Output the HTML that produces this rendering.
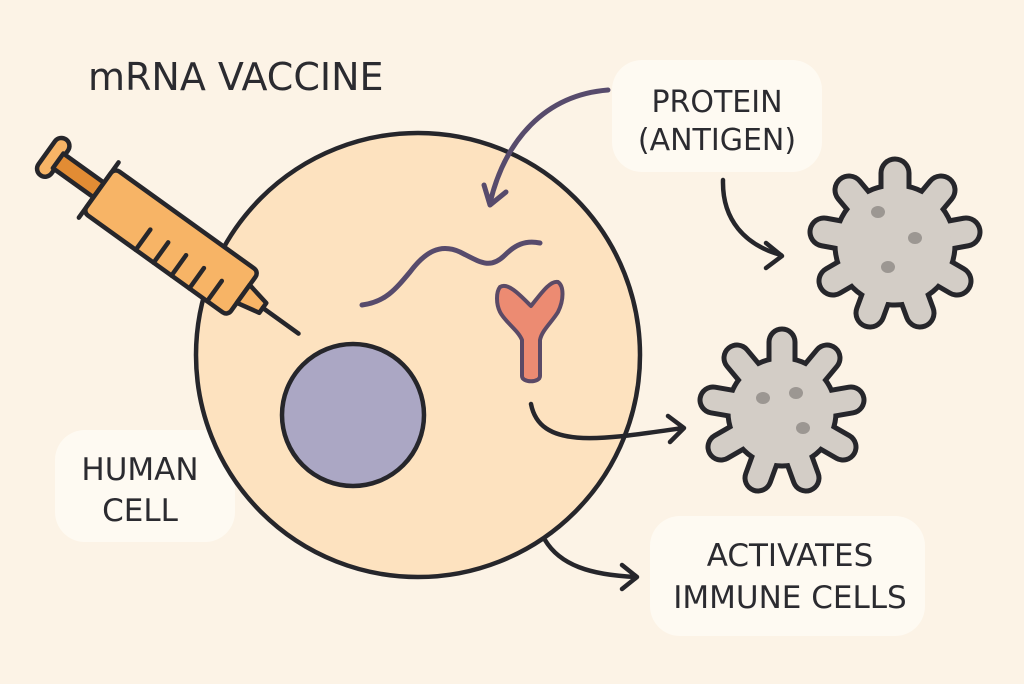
<!DOCTYPE html>
<html><head><meta charset="utf-8"><style>
html,body{margin:0;padding:0;background:#fcf3e6;}
svg{display:block;}
text{font-family:"DejaVu Sans","Liberation Sans",sans-serif;fill:#2b2b30;}
</style></head><body>
<svg width="1024" height="684" viewBox="0 0 1024 684" xmlns="http://www.w3.org/2000/svg">
<rect width="1024" height="684" fill="#fcf3e6"/>
<rect x="612" y="60" width="210" height="112" rx="30" fill="#fefaf2"/>
<rect x="55" y="430" width="180" height="112" rx="30" fill="#fefaf2"/>
<rect x="650" y="516" width="275" height="120" rx="30" fill="#fefaf2"/>
<text x="88" y="90" font-size="38">mRNA VACCINE</text>
<text x="717" y="112" font-size="30" text-anchor="middle">PROTEIN</text>
<text x="717" y="150" font-size="30" text-anchor="middle">(ANTIGEN)</text>
<text x="140" y="480" font-size="31" text-anchor="middle">HUMAN</text>
<text x="140" y="521" font-size="31" text-anchor="middle">CELL</text>
<text x="790" y="566" font-size="31" text-anchor="middle">ACTIVATES</text>
<text x="790" y="608" font-size="31" text-anchor="middle">IMMUNE CELLS</text>
<circle cx="418" cy="355" r="222" fill="#fde2bf" stroke="#26262b" stroke-width="4.5"/>
<circle cx="353" cy="415" r="71" fill="#aba7c4" stroke="#26262b" stroke-width="4.5"/>
<g transform="translate(50,155) rotate(35.7)" stroke="#26262b" stroke-width="4.5" stroke-linejoin="round" stroke-linecap="round">
  <rect x="-4" y="-22" width="16" height="44" rx="8" fill="#f7b466"/>
  <rect x="10" y="-9" width="50" height="18" fill="#e28c34"/>
  <line x1="60" y1="-34" x2="60" y2="34"/>
  <rect x="60" y="-27" width="178" height="54" rx="6" fill="#f7b466"/>
  <line x1="125" y1="27" x2="125" y2="2"/>
  <line x1="147" y1="27" x2="147" y2="2"/>
  <line x1="169" y1="27" x2="169" y2="2"/>
  <line x1="191" y1="27" x2="191" y2="2"/>
  <line x1="213" y1="27" x2="213" y2="2"/>
  <path d="M238 -11 L262 -6 L262 6 L238 11 Z" fill="#f7b466"/>
  <line x1="262" y1="0" x2="306" y2="0"/>
</g>
<g fill="none" stroke="#574b6c" stroke-width="5" stroke-linecap="round" stroke-linejoin="round">
  <path d="M608 90 C545 95 505 140 490 203"/>
  <path d="M484 185 L490 205 L506 192"/>
  <path d="M362 305 C385 302 395 290 410 272 C425 252 440 243 460 252 C480 262 490 270 505 255 C515 245 525 240 540 243"/>
</g>
<path d="M500 287 C508 282 520 295 531 306 C540 295 550 280 558 282 C564 286 564 300 558 312 C552 322 542 330 540 340 L540 376 C540 383 522 383 522 376 L522 340 C518 330 505 322 500 312 C496 304 496 292 500 287 Z" fill="#ec8b72" stroke="#5b4a66" stroke-width="4" stroke-linejoin="round"/>
<g fill="none" stroke="#26262b" stroke-width="4.5" stroke-linecap="round" stroke-linejoin="round">
  <path d="M531 404 C540 450 600 440 683 428"/>
  <path d="M668 416 L684 428 L670 442"/>
  <path d="M723 180 C722 220 745 245 781 255"/>
  <path d="M766 243 L782 256 L766 268"/>
  <path d="M545 540 C560 565 590 575 636 577"/>
  <path d="M622 565 L637 577 L622 589"/>
</g>
<g stroke-linecap="round">
  <path d="M895 245 L895 173 M895 245 L941 190 M895 245 L966 232 M895 245 L957 281 M895 245 L920 313 M895 245 L870 313 M895 245 L833 281 M895 245 L824 232 M895 245 L849 190" stroke="#26262b" stroke-width="33" fill="none"/>
  <circle cx="895" cy="245" r="60" fill="#d3cdc6" stroke="#26262b" stroke-width="5"/>
  <path d="M895 245 L895 173 M895 245 L941 190 M895 245 L966 232 M895 245 L957 281 M895 245 L920 313 M895 245 L870 313 M895 245 L833 281 M895 245 L824 232 M895 245 L849 190" stroke="#d3cdc6" stroke-width="23" fill="none"/>
  <circle cx="895" cy="245" r="56" fill="#d3cdc6"/>
</g>
<g stroke-linecap="round">
  <path d="M782 412 L782 342 M782 412 L827 358 M782 412 L851 400 M782 412 L843 447 M782 412 L806 478 M782 412 L758 478 M782 412 L721 447 M782 412 L713 400 M782 412 L737 358" stroke="#26262b" stroke-width="31" fill="none"/>
  <circle cx="782" cy="412" r="54" fill="#d3cdc6" stroke="#26262b" stroke-width="5"/>
  <path d="M782 412 L782 342 M782 412 L827 358 M782 412 L851 400 M782 412 L843 447 M782 412 L806 478 M782 412 L758 478 M782 412 L721 447 M782 412 L713 400 M782 412 L737 358" stroke="#d3cdc6" stroke-width="21" fill="none"/>
  <circle cx="782" cy="412" r="50" fill="#d3cdc6"/>
</g>
<g fill="#9c9792">
  <ellipse cx="878" cy="212" rx="7" ry="6"/>
  <ellipse cx="915" cy="238" rx="7" ry="6"/>
  <ellipse cx="888" cy="267" rx="7" ry="6"/>
  <ellipse cx="763" cy="398" rx="7" ry="6"/>
  <ellipse cx="796" cy="393" rx="7" ry="6"/>
  <ellipse cx="803" cy="428" rx="7" ry="6"/>
</g>
</svg>
</body></html>
